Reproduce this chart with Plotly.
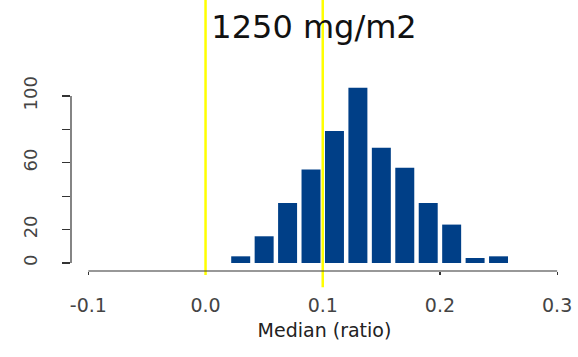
import plotly.graph_objects as go

# Data
bin_centers = [0.03, 0.05, 0.07, 0.09, 0.11, 0.13, 0.15, 0.17, 0.19, 0.21, 0.23, 0.25]
counts = [4, 16, 36, 56, 79, 105, 69, 57, 36, 23, 3, 4]
ref_lines = [0.0, 0.1]
x_ticks = [-0.1, 0.0, 0.1, 0.2, 0.3]
x_tick_labels = ["-0.1", "0.0", "0.1", "0.2", "0.3"]
y_ticks = [0, 20, 40, 60, 80, 100]
y_tick_labels = ["0", "20", "", "60", "", "100"]
title_text = "1250 mg/m2"
x_title = "Median (ratio)"

FONT = "DejaVu Sans"
BAR_COLOR = "#003f87"
AXIS_COLOR = "#333333"

fig = go.Figure()
fig.add_trace(go.Bar(
    x=bin_centers, y=counts,
    marker=dict(color=BAR_COLOR, line=dict(width=0)),
    showlegend=False, hoverinfo="skip",
))

shapes = []
# yellow reference lines (extend from top of image to below axis)
shapes.append(dict(type="line", xref="x", yref="paper", x0=ref_lines[0], x1=ref_lines[0],
                   y0=-0.015, y1=1.0, line=dict(color="#ffff00", width=2.5), layer="above"))
shapes.append(dict(type="line", xref="x", yref="paper", x0=ref_lines[1], x1=ref_lines[1],
                   y0=-0.06, y1=1.0, line=dict(color="#ffff00", width=2.5), layer="above"))
# R-style detached axis lines
shapes.append(dict(type="line", xref="x", yref="paper", x0=x_ticks[0], x1=x_ticks[-1],
                   y0=0, y1=0, line=dict(color=AXIS_COLOR, width=1.2)))
shapes.append(dict(type="line", xref="paper", yref="y", x0=0, x1=0,
                   y0=y_ticks[0], y1=y_ticks[-1], line=dict(color=AXIS_COLOR, width=1.2)))

fig.update_layout(
    width=578, height=357,
    margin=dict(l=71, r=0, t=0, b=86, autoexpand=False),
    paper_bgcolor="white", plot_bgcolor="white",
    bargap=0.19,
    shapes=shapes,
    title=dict(text=title_text, x=314 / 578, xref="container", xanchor="center",
               y=1 - 27 / 357, yref="container", yanchor="middle", automargin=False,
               font=dict(family=FONT, size=32, color="#111111")),
    xaxis=dict(
        automargin=False,
        range=[-0.1148, 0.3178],
        tickmode="array", tickvals=x_ticks, ticktext=x_tick_labels,
        ticks="outside", ticklen=3, tickwidth=1.2, tickcolor=AXIS_COLOR,
        showline=False, showgrid=False, zeroline=False,
        tickfont=dict(family=FONT, size=19, color="#444444"),
        ticklabelstandoff=14,
        title=dict(text=x_title, standoff=8,
                   font=dict(family=FONT, size=19, color="#222222")),
    ),
    yaxis=dict(
        automargin=False,
        range=[-4.79, 157.5],
        tickmode="array", tickvals=y_ticks, ticktext=y_tick_labels,
        ticks="outside", ticklen=8, tickwidth=1.2, tickcolor=AXIS_COLOR,
        tickangle=-90,
        showline=False, showgrid=False, zeroline=False,
        tickfont=dict(family=FONT, size=18, color="#444444"),
        ticklabelstandoff=18,
    ),
)

fig.write_html(
    "out.html",
    config={"displayModeBar": False, "staticPlot": True},
    post_script="document.body.style.margin='0';document.body.style.padding='0';"
                "document.documentElement.style.overflow='hidden';",
)
